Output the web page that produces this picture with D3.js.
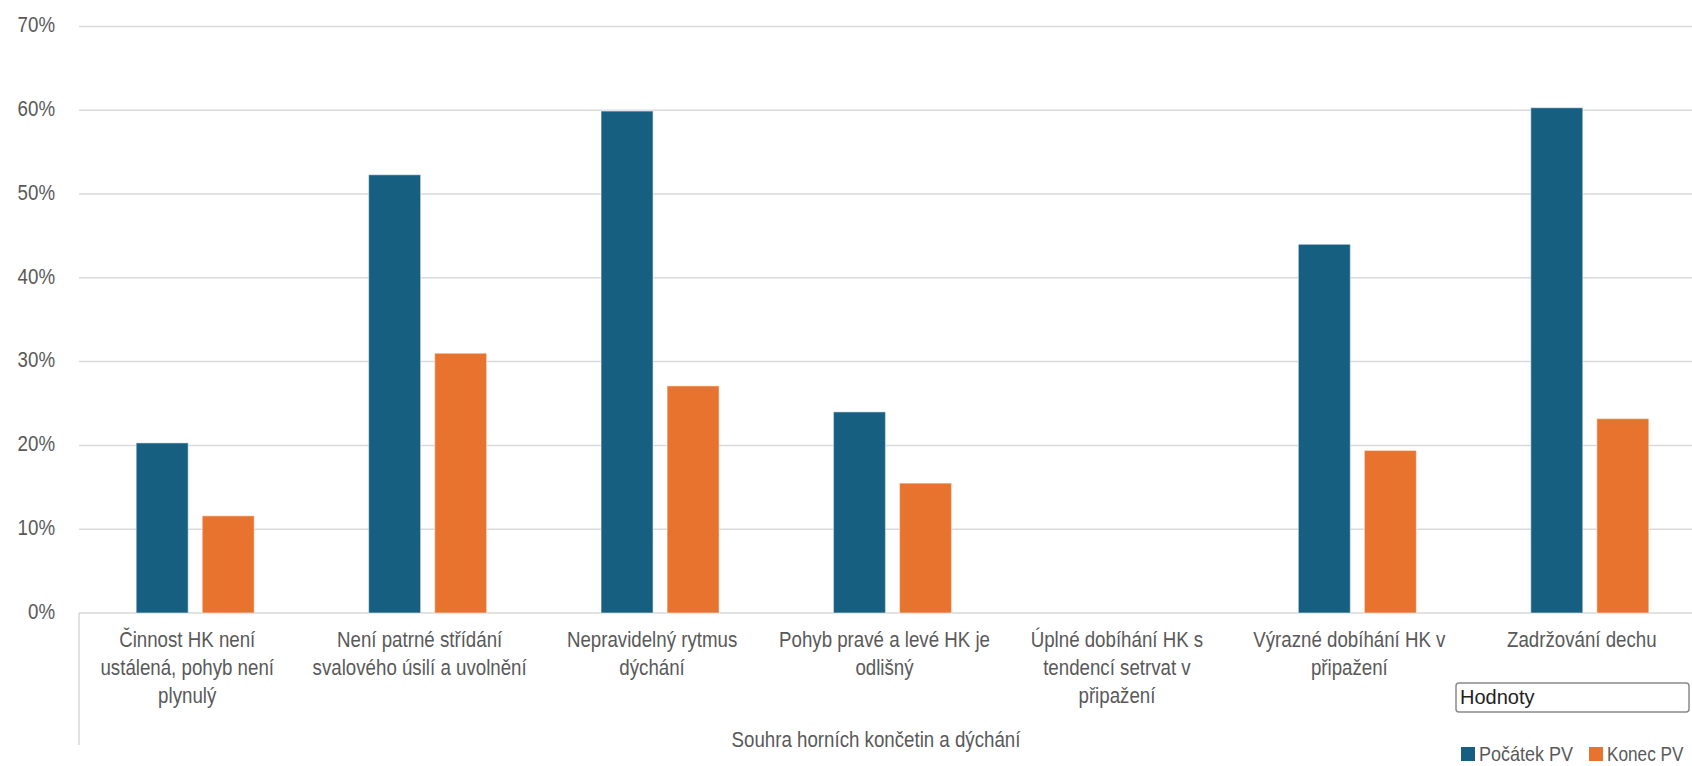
<!DOCTYPE html>
<html>
<head>
<meta charset="utf-8">
<script src="https://cdn.jsdelivr.net/npm/d3@7"></script>
<style>
  html, body { margin: 0; padding: 0; background: #fff; }
  svg { display: block; }
  .lbl { font-family: 'Liberation Sans', Arial, sans-serif; font-size: 22px; fill: #595959; }
</style>
</head>
<body>
<svg id="chart" width="1692" height="766"></svg>
<script>
// Category labels (line breaks as shown under the axis)
const categories = [
  "Činnost HK není\nustálená, pohyb není\nplynulý",
  "Není patrné střídání\nsvalového úsilí a uvolnění",
  "Nepravidelný rytmus\ndýchání",
  "Pohyb pravé a levé HK je\nodlišný",
  "Úplné dobíhání HK s\ntendencí setrvat v\npřipažení",
  "Výrazné dobíhání HK v\npřipažení",
  "Zadržování dechu"
];
const seriesNames = ["Počátek PV", "Konec PV"];
const pocatekPV = [20.3, 52.3, 59.9, 24.0, 0, 44.0, 60.3];
const konecPV   = [11.6, 31.0, 27.1, 15.5, 0, 19.4, 23.2];
const yTicks = [0, 10, 20, 30, 40, 50, 60, 70];
const axisTitle = "Souhra horních končetin a dýchání";
const fieldButton = "Hodnoty";
const colors = ["#175f80", "#e8732f"];

// condensed text: the labels use a narrow sans face
const NARROW = 0.85;
const narrowAt = (x, y, k = NARROW) => `translate(${x},${y}) scale(${k},1)`;

const rows = categories.map((c, i) => ({ cat: c, values: [pocatekPV[i], konecPV[i]] }));

const svg = d3.select("#chart");
const plotLeft = 79, plotRight = 1706, plotTop = 26.4, plotBottom = 613;

const x0 = d3.scaleBand().domain(categories).range([plotLeft, plotRight])
  .paddingInner(0.492).paddingOuter(0.246);
const x1 = d3.scaleBand().domain(seriesNames).range([0, x0.bandwidth()]).paddingInner(0.212);
const y = d3.scaleLinear().domain([0, 70]).range([plotBottom, plotTop]);

// horizontal gridlines
svg.append("g").selectAll("line").data(yTicks).join("line")
  .attr("x1", plotLeft).attr("x2", 1692)
  .attr("y1", d => y(d)).attr("y2", d => y(d))
  .attr("stroke", "#d9d9d9").attr("stroke-width", 1.5);

// left edge of the category axis area
svg.append("line")
  .attr("x1", plotLeft).attr("x2", plotLeft).attr("y1", y(0)).attr("y2", 745)
  .attr("stroke", "#d9d9d9").attr("stroke-width", 1.5);

// y tick labels
svg.append("g").selectAll("text").data(yTicks).join("text")
  .attr("class", "lbl")
  .attr("transform", d => narrowAt(55, y(d) - 2))
  .attr("dy", "0.35em").attr("text-anchor", "end")
  .text(d => d + "%");

// bars
const groups = svg.append("g").selectAll("g").data(rows).join("g")
  .attr("transform", d => `translate(${x0(d.cat)},0)`);
groups.selectAll("rect").data(d => d.values.map((v, i) => ({ key: seriesNames[i], v, i })))
  .join("rect")
  .attr("x", d => x1(d.key)).attr("width", x1.bandwidth())
  .attr("y", d => y(d.v)).attr("height", d => y(0) - y(d.v))
  .attr("fill", d => colors[d.i])
  .attr("stroke", "#ffffff").attr("stroke-opacity", d => d.v > 0 ? 0.45 : 0).attr("stroke-width", 1.2);

// category labels, centred slightly left of each band
const catLabels = svg.append("g").selectAll("text").data(categories).join("text")
  .attr("class", "lbl").attr("text-anchor", "middle")
  .attr("transform", d => narrowAt(x0(d) + x0.bandwidth() / 2 - 8, 647));
catLabels.selectAll("tspan").data(d => d.split("\n")).join("tspan")
  .attr("x", 0)
  .attr("dy", (d, i) => i === 0 ? 0 : 28)
  .text(d => d);

// axis title
svg.append("text").attr("class", "lbl")
  .attr("transform", narrowAt(876, 747)).attr("text-anchor", "middle")
  .text(axisTitle);

// field button
svg.append("rect").attr("x", 1456).attr("y", 683).attr("width", 233).attr("height", 29)
  .attr("rx", 3).attr("fill", "#fff").attr("stroke", "#8a8a8a").attr("stroke-width", 1.5);
svg.append("text").attr("x", 1460).attr("y", 704)
  .attr("font-family", "'Liberation Sans', Arial, sans-serif")
  .attr("font-size", 20).attr("fill", "#222").text(fieldButton);

// legend
const legendX = [1461, 1589];
const legend = svg.append("g").selectAll("g").data(seriesNames).join("g")
  .attr("transform", (d, i) => `translate(${legendX[i]},747)`);
legend.append("rect").attr("width", 14).attr("height", 14).attr("fill", (d, i) => colors[i]);
legend.append("text").attr("class", "lbl").style("font-size", "20px")
  .attr("transform", (d, i) => narrowAt(18, 7, i ? 0.86 : 0.9)).attr("dy", "0.35em")
  .text(d => d);
</script>
</body>
</html>
